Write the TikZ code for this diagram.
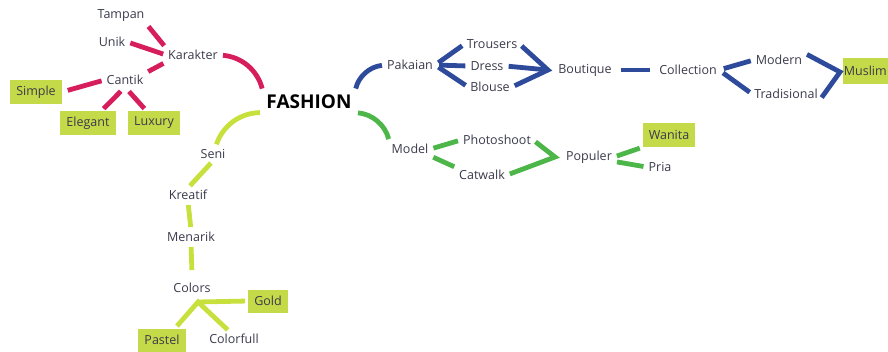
\documentclass[tikz,border=0pt]{standalone}
\usepackage{fontspec}
\setmainfont{Open Sans}
\definecolor{textgray}{HTML}{3A3A4C}
\definecolor{karakterred}{HTML}{D61E5C}
\definecolor{pakaianblue}{HTML}{2E4B9B}
\definecolor{modelgreen}{HTML}{4CB648}
\definecolor{senilime}{HTML}{C8E03C}
\definecolor{boxlime}{HTML}{C5DA48}
\begin{document}
\begin{tikzpicture}[x=1pt, y=-1pt, font=\fontsize{12.5}{14}\selectfont, line join=round,
		word/.style={text=textgray, inner sep=2pt},
		tag/.style={fill=boxlime, text=textgray, minimum height=24pt, inner xsep=6pt},
		link/.style={line width=4.8pt, shorten <=3pt, shorten >=3pt}]
		\useasboundingbox (0,0) rectangle (888,351);
		% centre
		\node[text=black, font=\fontsize{19}{22}\selectfont\bfseries] (fashion) at (309,102) {FASHION};
		% karakter
		\node[word] (tampan) at (121,16) {Tampan};
		\node[word] (unik) at (112,42) {Unik};
		\node[word] (karakter) at (193,55) {Karakter};
		\node[word] (cantik) at (125,80) {Cantik};
		\node[tag] (simple) at (36,92) {Simple};
		\node[tag] (elegant) at (88,123) {Elegant};
		\node[tag] (luxury) at (154,123) {Luxury};
		% pakaian
		\node[word] (pakaian) at (410,65) {Pakaian};
		\node[word] (trousers) at (492,44) {Trousers};
		\node[word] (dress) at (487,66) {Dress};
		\node[word] (blouse) at (490,87) {Blouse};
		\coordinate (boutiquein) at (548,70);
		\node[word] (boutique) at (585,70) {Boutique};
		\node[word] (collection) at (688,70) {Collection};
		\node[word] (modern) at (779,60) {Modern};
		\node[word] (tradisional) at (786,94) {Tradisional};
		\coordinate (muslimin) at (840,72);
		\node[tag, anchor=east, minimum height=26pt, minimum width=45pt, inner xsep=1pt] (muslim) at (888,71) {Muslim};
		% model
		\node[word] (model) at (410,149) {Model};
		\node[word] (photoshoot) at (497,140) {Photoshoot};
		\node[word] (catwalk) at (482,175) {Catwalk};
		\coordinate (populerin) at (555,157);
		\node[word] (populer) at (589,157) {Populer};
		\node[tag] (wanita) at (669,135) {Wanita};
		\node[word] (pria) at (660,167) {Pria};
		% seni
		\node[word] (seni) at (213,154) {Seni};
		\node[word] (kreatif) at (188,195) {Kreatif};
		\node[word] (menarik) at (191,237) {Menarik};
		\node[word] (colors) at (192,288) {Colors};
		\coordinate (colorsfork) at (198,302);
		\node[tag, minimum height=23pt] (gold) at (268,301) {Gold};
		\node[tag, minimum height=23pt] (pastel) at (162,340) {Pastel};
		\node[word] (colorfull) at (234,339) {Colorfull};

		\begin{scope}[karakterred]
			\draw[link] (tampan.south east) -- (karakter.north west);
			\draw[link] (unik.east) -- (karakter.west);
			\draw[link] (karakter.south west) -- (cantik.north east);
			\draw[link] (karakter.east) to[bend left=35] (fashion.north west);
			\draw[link, shorten >=6pt] (cantik.west) -- (simple.east);
			\draw[link, shorten <=6pt] (cantik.south) -- (elegant.42);
			\draw[link, shorten <=6pt] (cantik.south) -- (luxury.122);
		\end{scope}
		\begin{scope}[pakaianblue]
			\draw[link] (fashion.north east) to[bend left=35] (pakaian.west);
			\draw[link, shorten <=4pt] (pakaian.east) -- (trousers.west);
			\draw[link, shorten <=4pt] (pakaian.east) -- (dress.west);
			\draw[link, shorten <=4pt] (pakaian.east) -- (blouse.west);
			\draw[link, line join=miter] (trousers.east) -- (boutiquein) -- (blouse.east);
			\draw[link, shorten >=0pt] (dress.east) -- (boutiquein);
			\draw[link, shorten <=7pt, shorten >=7pt] (boutique.east) -- (collection.west);
			\draw[link, shorten <=5pt] (collection.east) -- (modern.west);
			\draw[link, shorten <=5pt] (collection.east) -- (tradisional.west);
			\draw[link, line join=miter] (modern.north east) -- (muslimin) -- (tradisional.-10);
		\end{scope}
		\begin{scope}[modelgreen]
			\draw[link] (fashion.south east) to[bend left=35] (model.north west);
			\draw[link] (model.east) -- (photoshoot.west);
			\draw[link] (model.south east) -- (catwalk.north west);
			\draw[link, line join=miter] (photoshoot.east) -- (populerin) -- (catwalk.east);
			\draw[link] (populer.east) -- (wanita.south west);
			\draw[link] (populer.-10) -- (pria.west);
		\end{scope}
		\begin{scope}[senilime]
			\draw[link] (fashion.south west) to[bend right=35] (seni.70);
			\draw[link] (seni.south) -- (kreatif.north);
			\draw[link] (kreatif.south) -- (menarik.north);
			\draw[link] (menarik.south) -- (colors.north |- 0,273);
			\draw[link, line join=miter] (pastel.42) -- (colorsfork) -- (colorfull.120);
			\draw[link, shorten >=0pt] (gold.west) -- (colorsfork);
		\end{scope}
\end{tikzpicture}
\end{document}
